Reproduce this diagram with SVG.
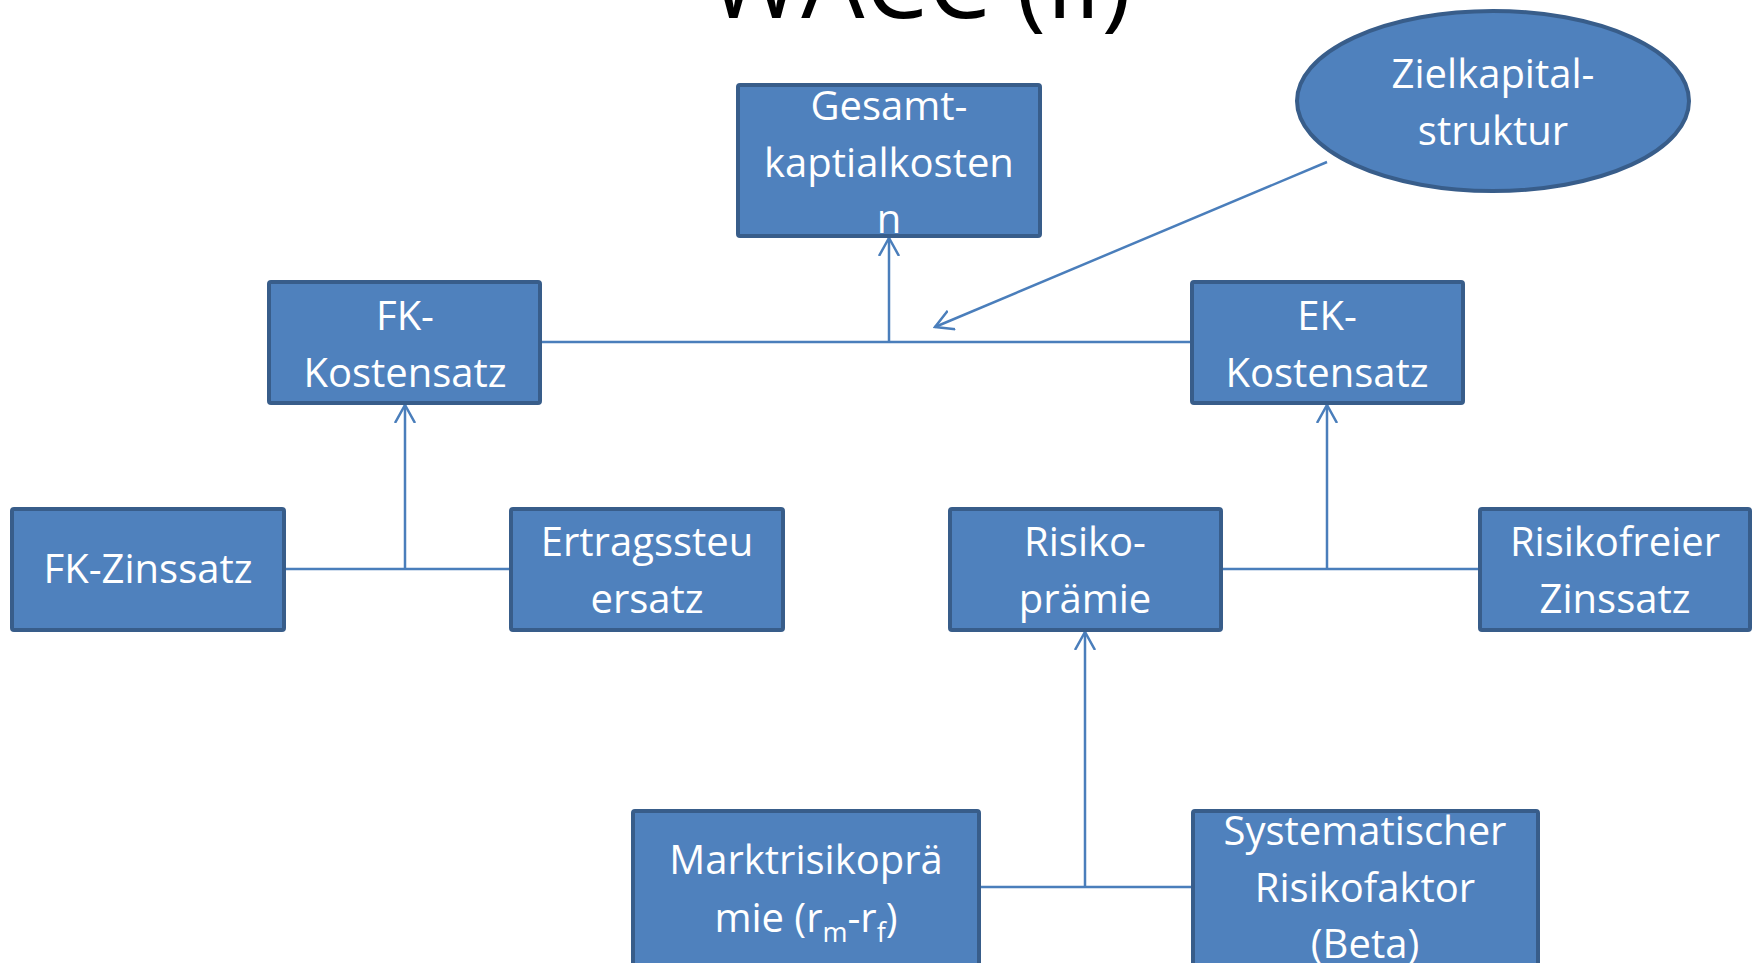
<svg xmlns="http://www.w3.org/2000/svg" width="1756" height="963" viewBox="0 0 1756 963">
  <style>
    .box { fill: #4F81BD; stroke: #385D8A; stroke-width: 4; }
    .lbl { font-family: "Open Sans", "Noto Sans", sans-serif; font-size: 40px; fill: #FFFFFF; text-anchor: middle; }
    .sub { font-size: 27px; }
    .title { font-family: "Open Sans", "Noto Sans", sans-serif; font-size: 100px; fill: #000000; text-anchor: middle; }
    .link { fill: none; stroke: #4A7EBB; stroke-width: 2.5; }
    .arrow { marker-end: url(#open-arrow); }
  </style>
  <defs>
    <marker id="open-arrow" viewBox="0 0 20 22" refX="18" refY="11" markerWidth="20" markerHeight="22" markerUnits="userSpaceOnUse" orient="auto">
      <path d="M0,1 L18,11 L0,21" fill="none" stroke="#4A7EBB" stroke-width="2.5"/>
    </marker>
  </defs>

  <rect width="1756" height="963" fill="#FFFFFF"/>

  <text class="title" x="920" y="18">WACC (II)</text>

  <!-- connectors -->
  <g id="connectors">
    <line class="link" x1="542" y1="342" x2="1190" y2="342"/>
    <line class="link arrow" x1="889" y1="342" x2="889" y2="238"/>
    <line class="link arrow" x1="1327" y1="162" x2="935" y2="327"/>
    <line class="link" x1="286" y1="569" x2="509" y2="569"/>
    <line class="link arrow" x1="405" y1="569" x2="405" y2="405"/>
    <line class="link" x1="1223" y1="569" x2="1478" y2="569"/>
    <line class="link arrow" x1="1327" y1="569" x2="1327" y2="405"/>
    <line class="link" x1="981" y1="887" x2="1191" y2="887"/>
    <line class="link arrow" x1="1085" y1="887" x2="1085" y2="632"/>
  </g>

  <g id="gesamtkapitalkosten">
    <rect class="box" x="738" y="85" width="302" height="151" rx="2"/>
    <text class="lbl" x="889" y="120">Gesamt-</text>
    <text class="lbl" x="889" y="177">kaptialkosten</text>
    <text class="lbl" x="889" y="233">n</text>
  </g>

  <g id="zielkapitalstruktur">
    <ellipse class="box" cx="1493" cy="101" rx="196" ry="90"/>
    <text class="lbl" x="1493" y="88">Zielkapital-</text>
    <text class="lbl" x="1493" y="145">struktur</text>
  </g>

  <g id="fk-kostensatz">
    <rect class="box" x="269" y="282" width="271" height="121" rx="2"/>
    <text class="lbl" x="405" y="330">FK-</text>
    <text class="lbl" x="405" y="387">Kostensatz</text>
  </g>

  <g id="ek-kostensatz">
    <rect class="box" x="1192" y="282" width="271" height="121" rx="2"/>
    <text class="lbl" x="1327" y="330">EK-</text>
    <text class="lbl" x="1327" y="387">Kostensatz</text>
  </g>

  <g id="fk-zinssatz">
    <rect class="box" x="12" y="509" width="272" height="121" rx="2"/>
    <text class="lbl" x="148" y="583">FK-Zinssatz</text>
  </g>

  <g id="ertragssteuersatz">
    <rect class="box" x="511" y="509" width="272" height="121" rx="2"/>
    <text class="lbl" x="647" y="556">Ertragssteu</text>
    <text class="lbl" x="647" y="613">ersatz</text>
  </g>

  <g id="risikopraemie">
    <rect class="box" x="950" y="509" width="271" height="121" rx="2"/>
    <text class="lbl" x="1085" y="556">Risiko-</text>
    <text class="lbl" x="1085" y="613">prämie</text>
  </g>

  <g id="risikofreier-zinssatz">
    <rect class="box" x="1480" y="509" width="270" height="121" rx="2"/>
    <text class="lbl" x="1615" y="556">Risikofreier</text>
    <text class="lbl" x="1615" y="613">Zinssatz</text>
  </g>

  <g id="marktrisikopraemie">
    <rect class="box" x="633" y="811" width="346" height="160" rx="2"/>
    <text class="lbl" x="806" y="874">Marktrisikoprä</text>
    <text class="lbl" x="806" y="932">mie (r<tspan class="sub" dy="10">m</tspan><tspan dy="-10">-r</tspan><tspan class="sub" dy="10">f</tspan><tspan dy="-10">)</tspan></text>
  </g>

  <g id="systematischer-risikofaktor">
    <rect class="box" x="1193" y="811" width="345" height="160" rx="2"/>
    <text class="lbl" x="1365" y="845">Systematischer</text>
    <text class="lbl" x="1365" y="902">Risikofaktor</text>
    <text class="lbl" x="1365" y="958">(Beta)</text>
  </g>
</svg>
